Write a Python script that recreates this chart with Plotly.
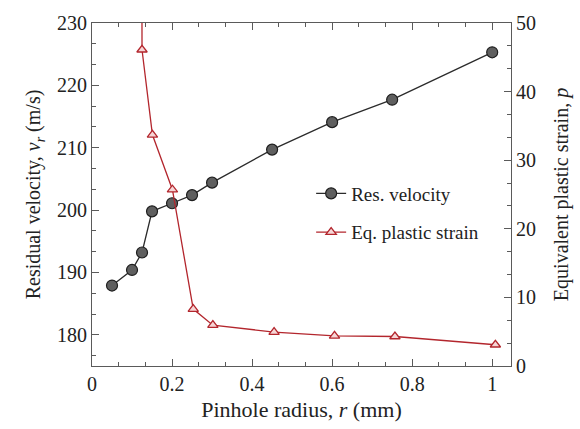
import plotly.graph_objects as go

# Residual velocity series
r_vel = [0.05, 0.10, 0.125, 0.15, 0.20, 0.25, 0.30, 0.45, 0.60, 0.75, 1.00]
v_res = [187.9, 190.4, 193.2, 199.8, 201.1, 202.4, 204.4, 209.7, 214.1, 217.7, 225.3]

# Equivalent plastic strain series (first values far above the axis range)
r_eps = [0.05, 0.10, 0.125, 0.151, 0.201, 0.253, 0.302, 0.455, 0.606, 0.757, 1.008]
p_eps = [1500, 1000, 46.1, 33.7, 25.7, 8.3, 5.95, 4.95, 4.4, 4.3, 3.1]

x_ticks = [0, 0.2, 0.4, 0.6, 0.8, 1.0]
x_ticklabels = ["0", "0.2", "0.4", "0.6", "0.8", "1"]

FONT = "'Liberation Serif', 'DejaVu Serif', serif"
AX = "#5a5a5a"
TXT = "#222222"

fig = go.Figure()
fig.add_trace(go.Scatter(
    x=r_vel, y=v_res, name="Res. velocity", mode="lines+markers",
    line=dict(color="#2b2b2b", width=1.3),
    marker=dict(symbol="circle", size=11, color="#5f5f5f",
                line=dict(color="#1e1e1e", width=1.2)),
    legendgroup="a", yaxis="y"))
fig.add_trace(go.Scatter(
    x=r_eps, y=p_eps, name="Eq. plastic strain", mode="lines+markers",
    line=dict(color="#b3262d", width=1.3),
    marker=dict(symbol="triangle-up", size=9, color="#f6d6d6",
                line=dict(color="#b3262d", width=1.3)),
    legendgroup="b", yaxis="y2"))

fig.update_layout(
    width=580, height=429,
    margin=dict(l=92, r=68, t=20, b=59),
    paper_bgcolor="white", plot_bgcolor="white",
    font=dict(family=FONT, size=19, color=TXT),
    showlegend=True,
    legend=dict(x=0.523, y=0.446, xanchor="left", yanchor="middle",
                bgcolor="rgba(255,255,255,0)", borderwidth=0,
                font=dict(size=19, family=FONT, color=TXT),
                traceorder="grouped", tracegroupgap=11, itemwidth=30),
    xaxis=dict(range=[0, 1.047], tickvals=x_ticks, ticktext=x_ticklabels,
               showline=True, linecolor=AX, linewidth=1.2, mirror="ticks",
               ticks="inside", ticklen=7, tickcolor=AX, showgrid=False, zeroline=False,
               minor=dict(dtick=0.2 / 3, tick0=0, ticks="inside", ticklen=4, tickcolor=AX),
               title=dict(text="Pinhole radius, <i>r</i> (mm)", standoff=7,
                          font=dict(family=FONT, size=22)),
               tickfont=dict(family=FONT, size=20)),
    yaxis=dict(range=[175, 230], tick0=180, dtick=10,
               showline=True, linecolor=AX, linewidth=1.2,
               ticks="inside", ticklen=7, tickcolor=AX, showgrid=False, zeroline=False,
               minor=dict(dtick=10 / 3, tick0=180, ticks="inside", ticklen=4, tickcolor=AX),
               title=dict(text="Residual velocity, <i>v</i><sub><i>r</i></sub> (m/s)", standoff=10,
                          font=dict(family=FONT, size=20)),
               tickfont=dict(family=FONT, size=20)),
    yaxis2=dict(range=[0, 50], tick0=0, dtick=10, overlaying="y", side="right",
                showline=True, linecolor=AX, linewidth=1.2,
                ticks="inside", ticklen=7, tickcolor=AX, showgrid=False, zeroline=False,
                minor=dict(dtick=10 / 3, tick0=0, ticks="inside", ticklen=4, tickcolor=AX),
                title=dict(text="Equivalent plastic strain, <i>p</i>", standoff=18,
                           font=dict(family=FONT, size=20)),
                tickfont=dict(family=FONT, size=20)),
)

fig.write_html("out.html")
